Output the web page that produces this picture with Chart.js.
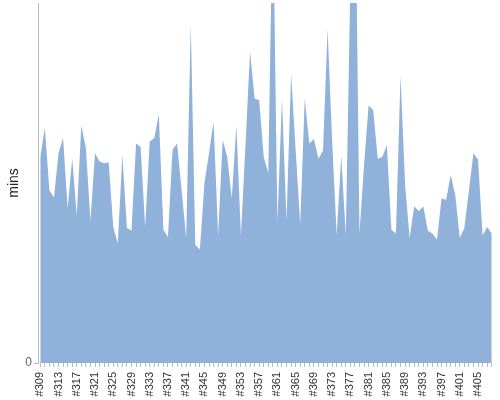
<!DOCTYPE html>
<html><head><meta charset="utf-8">
<script src="https://cdn.jsdelivr.net/npm/chart.js@4/dist/chart.umd.min.js"></script>
<style>html,body{margin:0;padding:0;background:#fff}#wrap{width:500px;height:400px}</style>
</head><body><div id="wrap"><canvas id="c" width="500" height="400"></canvas></div>
<script>
const firstBuild = 309;
const buildCount = 100;
const categories = [];
for (let i = 0; i < buildCount; i++) categories.push('#' + (firstBuild + i));
const durations = [
  22.9, 26.1, 19.2, 18.4, 23.3, 25.0, 17.2, 22.7, 16.4, 26.4,
  23.9, 15.8, 23.3, 22.4, 22.2, 22.3, 15.1, 13.3, 23.1, 15.0,
  14.7, 24.4, 24.0, 15.1, 24.6, 25.0, 27.6, 14.8, 14.0, 23.7,
  24.4, 19.2, 13.9, 37.7, 13.1, 12.6, 20.0, 23.3, 26.8, 14.2,
  24.8, 22.9, 18.3, 26.4, 14.2, 24.2, 34.6, 29.4, 29.2, 22.9,
  21.1, 52.0, 15.7, 29.3, 15.8, 32.1, 23.7, 15.4, 29.4, 24.4,
  24.9, 22.7, 23.6, 37.1, 24.8, 14.2, 23.0, 14.2, 42.0, 58.0,
  14.4, 22.0, 28.6, 28.1, 22.7, 22.9, 24.2, 14.8, 14.4, 32.0,
  19.8, 13.9, 17.4, 16.9, 17.4, 14.7, 14.4, 13.7, 18.3, 18.1,
  20.9, 18.7, 13.9, 15.0, 19.2, 23.3, 22.6, 14.2, 15.1, 14.4
];
const yTicks = [0];
const yMax = 40;

function noPad(s) { s.paddingLeft = 0; s.paddingRight = 0; s.paddingTop = 0; s.paddingBottom = 0; }

new Chart(document.getElementById('c'), {
  type: 'line',
  data: {
    labels: categories,
    datasets: [{
      data: durations,
      fill: 'origin',
      backgroundColor: '#8fb1da',
      borderWidth: 0,
      borderColor: 'rgba(0,0,0,0)',
      pointRadius: 0,
      tension: 0
    }]
  },
  options: {
    responsive: false,
    animation: false,
    layout: { padding: { top: 3, right: 6, left: 0, bottom: 0 } },
    plugins: { legend: { display: false }, tooltip: { enabled: false } },
    scales: {
      x: {
        offset: true,
        afterFit: function (s) { noPad(s); s.height = 37; },
        grid: { display: true, drawOnChartArea: false, drawTicks: true, tickLength: 4, color: '#bbb' },
        border: { display: false },
        ticks: {
          autoSkip: false, maxRotation: 90, minRotation: 90,
          color: '#333', font: { family: 'Liberation Sans, Arial', size: 11 },
          padding: 5,
          callback: function (v, i) { return i % 4 === 0 ? categories[i] : ''; }
        }
      },
      y: {
        min: 0, max: yMax,
        afterFit: function (s) { noPad(s); s.width = 38; },
        afterBuildTicks: function (s) { s.ticks = yTicks.map(v => ({ value: v })); },
        grid: { display: true, drawOnChartArea: false, tickLength: 4, color: '#bbb' },
        border: { display: true, color: '#bbb', width: 1 },
        ticks: { color: '#666', font: { family: 'Liberation Sans, Arial', size: 12 }, padding: 2 },
        title: { display: true, text: 'mins', color: '#222', font: { family: 'Liberation Sans, Arial', size: 14 }, padding: { top: 6, bottom: 0 } }
      }
    }
  }
});
</script>
</body></html>
